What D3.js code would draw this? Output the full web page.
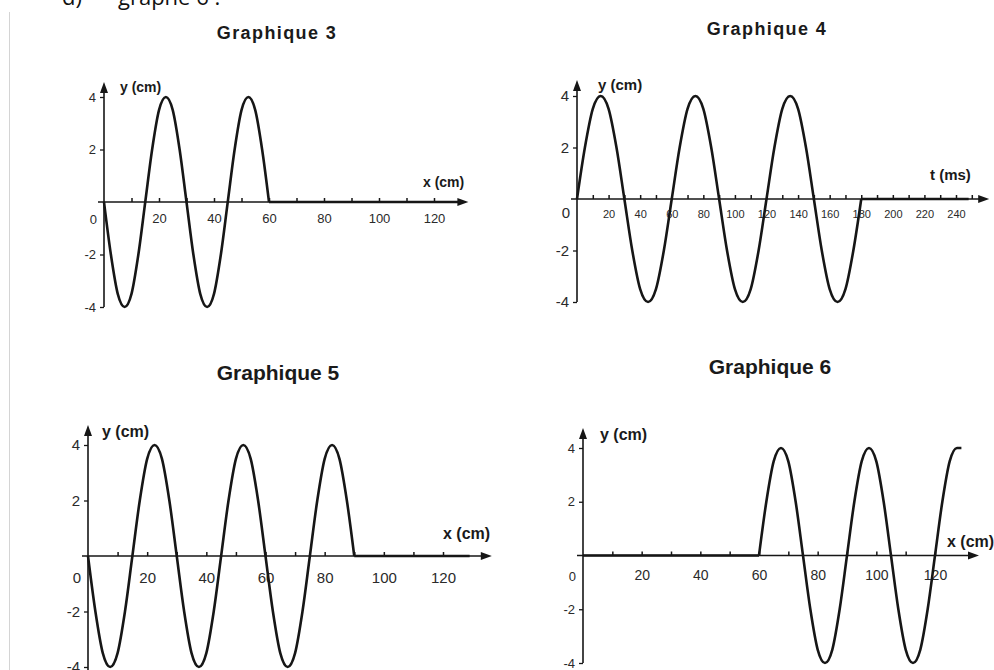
<!DOCTYPE html>
<html><head><meta charset="utf-8">
<script src="https://cdn.jsdelivr.net/npm/d3@7"></script>
<style>
html,body{margin:0;padding:0;background:#fff;}
svg{display:block;font-family:"Liberation Sans",Arial,sans-serif;}
</style></head>
<body>
<svg id="chart" width="994" height="670"></svg>
<script>
// ---------- data ----------
const titles = ["Graphique 3", "Graphique 4", "Graphique 5", "Graphique 6"];
const xAxisLabels = ["x (cm)", "t (ms)", "x (cm)", "x (cm)"];
const yAxisLabels = ["y (cm)", "y (cm)", "y (cm)", "y (cm)"];
const yTickValues = [-4, -2, 2, 4];
const xTicks3 = [20, 40, 60, 80, 100, 120];
const xTicks4 = [20, 40, 60, 80, 100, 120, 140, 160, 180, 200, 220, 240];
const xTicks5 = [20, 40, 60, 80, 100, 120];
const xTicks6 = [20, 40, 60, 80, 100, 120];

const wave3 = [[0,0],[2.5,-2],[5,-3.5],[7.5,-4],[10,-3.5],[12.5,-2],[15,0],[17.5,2],[20,3.5],[22.5,4],[25,3.5],[27.5,2],[30,0],[32.5,-2],[35,-3.5],[37.5,-4],[40,-3.5],[42.5,-2],[45,0],[47.5,2],[50,3.5],[52.5,4],[55,3.5],[57.5,2],[60,0]];
const flat3 = [[60,0],[130,0]];

const wave4 = [[0,0],[5,2],[10,3.5],[15,4],[20,3.5],[25,2],[30,0],[35,-2],[40,-3.5],[45,-4],[50,-3.5],[55,-2],[60,0],[65,2],[70,3.5],[75,4],[80,3.5],[85,2],[90,0],[95,-2],[100,-3.5],[105,-4],[110,-3.5],[115,-2],[120,0],[125,2],[130,3.5],[135,4],[140,3.5],[145,2],[150,0],[155,-2],[160,-3.5],[165,-4],[170,-3.5],[175,-2],[180,0]];
const flat4 = [[180,0],[248,0]];

const wave5 = [[0,0],[2.5,-2],[5,-3.5],[7.5,-4],[10,-3.5],[12.5,-2],[15,0],[17.5,2],[20,3.5],[22.5,4],[25,3.5],[27.5,2],[30,0],[32.5,-2],[35,-3.5],[37.5,-4],[40,-3.5],[42.5,-2],[45,0],[47.5,2],[50,3.5],[52.5,4],[55,3.5],[57.5,2],[60,0],[62.5,-2],[65,-3.5],[67.5,-4],[70,-3.5],[72.5,-2],[75,0],[77.5,2],[80,3.5],[82.5,4],[85,3.5],[87.5,2],[90,0]];
const flat5 = [[90,0],[129,0]];

const flat6 = [[0,0],[60,0]];
const wave6 = [[60,0],[62.5,2],[65,3.5],[67.5,4],[70,3.5],[72.5,2],[75,0],[77.5,-2],[80,-3.5],[82.5,-4],[85,-3.5],[87.5,-2],[90,0],[92.5,2],[95,3.5],[97.5,4],[100,3.5],[102.5,2],[105,0],[107.5,-2],[110,-3.5],[112.5,-4],[115,-3.5],[117.5,-2],[120,0],[122.5,2],[125,3.5],[127.5,4],[129,4]];

// ---------- layout (pixels / styles) ----------
const panels = [
  {title: titles[0], xl: xAxisLabels[0], yl: yAxisLabels[0], ticks: xTicks3, minorMax: 120, dom: 120,
   xr: [104, 434], yr: [307, 97], tip: 132.5, yTop: 82, yBot: -4, wave: wave3, flats: [flat3],
   tx: 277, ty: 39, tfs: 18, tls: 1.4,
   xlx: 423, xly: 187, xlfs: 14, ylx: 120, yly: 92, ylfs: 14,
   tickFs: 13, tickPad: 12, yTickFs: 13},
  {title: titles[1], xl: xAxisLabels[1], yl: yAxisLabels[1], ticks: xTicks4, minorMax: 250, dom: 240,
   xr: [577, 956], yr: [302, 96], tip: 261, yTop: 80, yBot: -4, wave: wave4, flats: [flat4],
   tx: 767, ty: 35, tfs: 18, tls: 1.4,
   xlx: 930, xly: 180, xlfs: 15, ylx: 598, yly: 90, ylfs: 15,
   tickFs: 11, tickPad: 11, yTickFs: 15},
  {title: titles[2], xl: xAxisLabels[2], yl: yAxisLabels[2], ticks: xTicks5, minorMax: 120, dom: 120,
   xr: [88, 443], yr: [667, 445], tip: 136.5, yTop: 425, yBot: -4.3, wave: wave5, flats: [flat5],
   tx: 278, ty: 380, tfs: 21, tls: 0,
   xlx: 443, xly: 539, xlfs: 16, ylx: 102, yly: 437, ylfs: 16,
   tickFs: 15, tickPad: 16, yTickFs: 15},
  {title: titles[3], xl: xAxisLabels[3], yl: yAxisLabels[3], ticks: xTicks6, minorMax: 120, dom: 120,
   xr: [583, 935], yr: [663, 448], tip: 135, yTop: 428, yBot: -4, wave: wave6, flats: [flat6],
   tx: 770, ty: 374, tfs: 21, tls: 0,
   xlx: 947, xly: 547, xlfs: 16, ylx: 600, yly: 440, ylfs: 16,
   tickFs: 14, tickPad: 15, yTickFs: 13}
];

const svg = d3.select("#chart");
const fmt = d => String(d);   // plain hyphen for negatives, as in the scan

// scan page remnants
svg.append("line").attr("x1", 9.5).attr("x2", 9.5).attr("y1", 12).attr("y2", 670)
  .attr("stroke", "#d4d4d4").attr("stroke-width", 1);
svg.append("text").attr("x", 62).attr("y", 5).attr("font-family", "'Open Sans', 'Liberation Sans', sans-serif")
  .attr("font-size", 22).attr("fill", "#111").text("d)");
svg.append("text").attr("x", 118).attr("y", 5).attr("font-family", "'Open Sans', 'Liberation Sans', sans-serif")
  .attr("font-size", 22).attr("fill", "#111").text("graphe 6 :");

const ink = "#161616";

panels.forEach(p => {
  const x = d3.scaleLinear().domain([0, p.dom]).range(p.xr);
  const y = d3.scaleLinear().domain([-4, 4]).range(p.yr);
  const g = svg.append("g");
  const y0 = y(0);

  // title
  g.append("text").attr("x", p.tx).attr("y", p.ty).attr("text-anchor", "middle")
    .attr("font-size", p.tfs).attr("font-weight", "bold").attr("letter-spacing", p.tls)
    .attr("fill", "#1a1a1a").text(p.title);

  // x axis minor ticks (every 10)
  const minor = d3.range(10, p.minorMax + 1, 10);
  const gMinor = g.append("g").attr("transform", `translate(0,${y0})`)
    .call(d3.axisBottom(x).tickValues(minor).tickSize(-4).tickFormat(""));
  gMinor.select(".domain").remove();
  gMinor.selectAll(".tick line").attr("stroke", ink).attr("stroke-width", 1.5);

  // x tick labels
  const gLab = g.append("g").attr("transform", `translate(0,${y0})`)
    .call(d3.axisBottom(x).tickValues(p.ticks).tickSize(0).tickPadding(p.tickPad).tickFormat(fmt));
  gLab.select(".domain").remove();
  gLab.selectAll(".tick text").attr("font-size", p.tickFs).attr("fill", "#2a2a2a")
    .attr("font-family", "'Liberation Sans', Arial, sans-serif");

  // y axis ticks + labels
  const gy = g.append("g").attr("transform", `translate(${x(0)},0)`)
    .call(d3.axisLeft(y).tickValues(yTickValues).tickSize(4).tickPadding(4).tickFormat(fmt));
  gy.select(".domain").remove();
  gy.selectAll(".tick line").attr("stroke", ink).attr("stroke-width", 1.3);
  gy.selectAll(".tick text").attr("font-size", p.yTickFs).attr("fill", "#2a2a2a")
    .attr("font-family", "'Liberation Sans', Arial, sans-serif");

  // "0" origin label
  g.append("text").attr("x", x(0) - 7).attr("y", y0 + p.tickPad + p.tickFs * 0.75)
    .attr("text-anchor", "end").attr("font-size", p.yTickFs).attr("fill", "#2a2a2a").text("0");

  // axis lines
  g.append("line").attr("x1", x(0) - 6).attr("x2", x(p.tip) - 8).attr("y1", y0).attr("y2", y0)
    .attr("stroke", ink).attr("stroke-width", 1.6);
  g.append("path").attr("d", `M${x(p.tip)},${y0} L${x(p.tip) - 11},${y0 - 4} L${x(p.tip) - 11},${y0 + 4} Z`)
    .attr("fill", ink);
  g.append("line").attr("x1", x(0)).attr("x2", x(0)).attr("y1", Math.min(y(p.yBot), 670)).attr("y2", p.yTop + 8)
    .attr("stroke", ink).attr("stroke-width", 1.6);
  g.append("path").attr("d", `M${x(0)},${p.yTop} L${x(0) - 4},${p.yTop + 11} L${x(0) + 4},${p.yTop + 11} Z`)
    .attr("fill", ink);

  // axis titles
  g.append("text").attr("x", p.ylx).attr("y", p.yly).attr("font-size", p.ylfs).attr("font-weight", "bold")
    .attr("fill", "#1a1a1a").text(p.yl);
  g.append("text").attr("x", p.xlx).attr("y", p.xly).attr("font-size", p.xlfs).attr("font-weight", "bold")
    .attr("fill", "#1a1a1a").text(p.xl);

  // wave and flat parts
  const lineC = d3.line().x(d => x(d[0])).y(d => y(d[1])).curve(d3.curveMonotoneX);
  const lineS = d3.line().x(d => x(d[0])).y(d => y(d[1]));
  g.append("path").datum(p.wave).attr("d", lineC).attr("fill", "none")
    .attr("stroke", ink).attr("stroke-width", 2.6).attr("stroke-linejoin", "round");
  p.flats.forEach(f => {
    g.append("path").datum(f).attr("d", lineS).attr("fill", "none")
      .attr("stroke", ink).attr("stroke-width", 2.6);
  });
});
</script>
</body></html>
